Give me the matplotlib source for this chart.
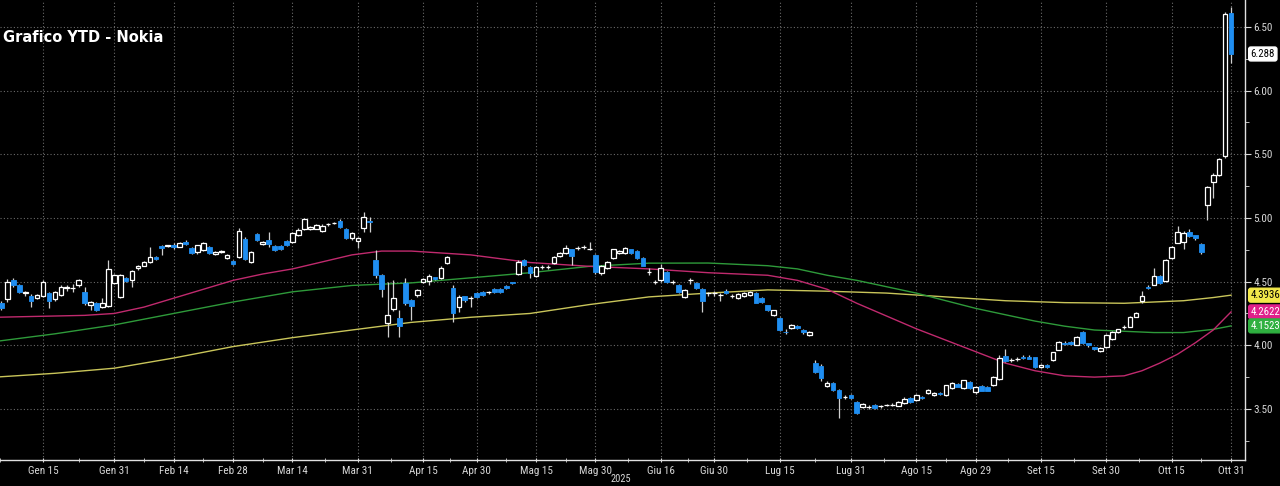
import numpy as np
import pandas as pd
import matplotlib
matplotlib.use("Agg")
import matplotlib.pyplot as plt
import matplotlib.transforms as mtransforms
from matplotlib import font_manager

_names = {f.name for f in font_manager.fontManager.ttflist}
NARROW = next((f for f in ['Liberation Sans Narrow', 'Roboto Condensed', 'Liberation Sans']
               if f in _names), 'DejaVu Sans')
plt.rcParams['font.family'] = [NARROW, 'DejaVu Sans']

# trading days (Helsinki), Jan 2 - Oct 29 2025
holidays = ['2025-01-06', '2025-04-18', '2025-04-21', '2025-05-01', '2025-05-29', '2025-06-20']

opens = [4.30, 4.33, 4.36, 4.51, 4.47, 4.41, 4.39, 4.37, 4.39, 4.41,
         4.36, 4.395, 4.45, 4.448, 4.47, 4.42, 4.315, 4.33, 4.30, 4.31,
         4.49, 4.38, 4.53, 4.51, 4.605, 4.62, 4.655, 4.69, 4.78, 4.78,
         4.79, 4.77, 4.81, 4.765, 4.73, 4.75, 4.77, 4.715, 4.733, 4.686,
         4.66, 4.69, 4.835, 4.655, 4.875, 4.795, 4.83, 4.78, 4.78, 4.82,
         4.81, 4.866, 4.913, 4.913, 4.913, 4.897, 4.952, 4.958, 4.976, 4.913,
         4.842, 4.82, 4.92, 4.976, 4.67, 4.552, 4.175, 4.285, 4.214, 4.489,
         4.356, 4.395, 4.497, 4.505, 4.536, 4.529, 4.646, 4.45, 4.30, 4.387,
         4.37, 4.411, 4.418, 4.417, 4.442, 4.442, 4.466, 4.497, 4.56, 4.67,
         4.615, 4.544, 4.613, 4.614, 4.646, 4.70, 4.725, 4.756, 4.763, 4.771,
         4.756, 4.709, 4.568, 4.607, 4.686, 4.725, 4.725, 4.756, 4.74, 4.686,
         4.575, 4.496, 4.513, 4.576, 4.496, 4.473, 4.379, 4.512, 4.489, 4.442,
         4.409, 4.409, 4.394, 4.426, 4.386, 4.371, 4.387, 4.395, 4.41, 4.371,
         4.316, 4.238, 4.214, 4.105, 4.136, 4.151, 4.12, 4.081, 3.861, 3.837,
         3.68, 3.704, 3.648, 3.593, 3.609, 3.554, 3.515, 3.514, 3.531, 3.522,
         3.53, 3.53, 3.523, 3.546, 3.586, 3.57, 3.594, 3.625, 3.609, 3.625,
         3.609, 3.664, 3.696, 3.664, 3.712, 3.633, 3.68, 3.672, 3.688, 3.735,
         3.916, 3.883, 3.891, 3.908, 3.908, 3.908, 3.829, 3.845, 3.884, 3.963,
         4.018, 4.026, 4.002, 4.104, 4.018, 3.986, 3.955, 3.986, 4.049, 4.104,
         4.143, 4.144, 4.222, 4.348, 4.458, 4.473, 4.544, 4.505, 4.685, 4.803,
         4.811, 4.889, 4.866, 4.795, 5.102, 5.282, 5.337, 5.487, 6.61]
highs = [4.35, 4.35, 4.52, 4.53, 4.48, 4.43, 4.40, 4.40, 4.51, 4.42,
         4.43, 4.47, 4.47, 4.48, 4.52, 4.46, 4.35, 4.34, 4.37, 4.67,
         4.56, 4.56, 4.54, 4.59, 4.63, 4.66, 4.77, 4.70, 4.785, 4.79,
         4.80, 4.81, 4.83, 4.77, 4.79, 4.81, 4.78, 4.74, 4.745, 4.72,
         4.67, 4.92, 4.85, 4.74, 4.88, 4.82, 4.89, 4.79, 4.79, 4.83,
         4.89, 4.92, 5.00, 4.94, 4.95, 4.95, 4.96, 4.97, 4.99, 4.92,
         4.89, 4.85, 5.05, 5.01, 4.75, 4.56, 4.50, 4.51, 4.277, 4.53,
         4.36, 4.44, 4.53, 4.56, 4.54, 4.62, 4.70, 4.47, 4.395, 4.39,
         4.39, 4.42, 4.43, 4.43, 4.45, 4.45, 4.47, 4.50, 4.67, 4.68,
         4.62, 4.62, 4.63, 4.63, 4.70, 4.73, 4.79, 4.76, 4.78, 4.79,
         4.81, 4.72, 4.63, 4.66, 4.76, 4.75, 4.77, 4.76, 4.745, 4.69,
         4.61, 4.51, 4.64, 4.58, 4.51, 4.48, 4.44, 4.53, 4.50, 4.45,
         4.42, 4.43, 4.41, 4.44, 4.40, 4.41, 4.42, 4.43, 4.42, 4.38,
         4.32, 4.28, 4.22, 4.13, 4.17, 4.16, 4.13, 4.11, 3.884, 3.85,
         3.72, 3.71, 3.66, 3.61, 3.62, 3.56, 3.55, 3.53, 3.54, 3.53,
         3.54, 3.55, 3.56, 3.59, 3.59, 3.62, 3.60, 3.66, 3.63, 3.63,
         3.69, 3.71, 3.70, 3.73, 3.72, 3.68, 3.69, 3.68, 3.76, 3.92,
         3.97, 3.90, 3.91, 3.92, 3.92, 3.91, 3.85, 3.85, 3.95, 4.03,
         4.03, 4.03, 4.07, 4.11, 4.02, 3.99, 3.99, 4.09, 4.11, 4.13,
         4.16, 4.23, 4.26, 4.43, 4.47, 4.61, 4.55, 4.68, 4.78, 4.937,
         4.90, 4.91, 4.87, 4.80, 5.25, 5.35, 5.47, 6.62, 6.66]
lows = [4.28, 4.28, 4.34, 4.46, 4.41, 4.39, 4.30, 4.36, 4.38, 4.29,
        4.35, 4.39, 4.43, 4.42, 4.46, 4.32, 4.28, 4.27, 4.29, 4.30,
        4.48, 4.37, 4.50, 4.46, 4.59, 4.62, 4.65, 4.67, 4.71, 4.77,
        4.76, 4.77, 4.79, 4.72, 4.72, 4.74, 4.72, 4.71, 4.725, 4.68,
        4.63, 4.685, 4.67, 4.645, 4.82, 4.79, 4.77, 4.74, 4.75, 4.78,
        4.80, 4.86, 4.905, 4.905, 4.91, 4.89, 4.94, 4.95, 4.92, 4.835,
        4.83, 4.764, 4.89, 4.89, 4.53, 4.38, 4.065, 4.27, 4.065, 4.32,
        4.20, 4.38, 4.49, 4.473, 4.51, 4.52, 4.64, 4.183, 4.26, 4.34,
        4.30, 4.37, 4.39, 4.40, 4.41, 4.41, 4.44, 4.48, 4.55, 4.62,
        4.53, 4.535, 4.60, 4.60, 4.64, 4.69, 4.72, 4.63, 4.75, 4.76,
        4.75, 4.56, 4.55, 4.60, 4.68, 4.72, 4.72, 4.72, 4.68, 4.62,
        4.55, 4.48, 4.50, 4.49, 4.48, 4.41, 4.37, 4.48, 4.44, 4.26,
        4.39, 4.39, 4.35, 4.40, 4.37, 4.36, 4.38, 4.39, 4.33, 4.33,
        4.27, 4.23, 4.11, 4.09, 4.13, 4.13, 4.09, 4.07, 3.78, 3.72,
        3.67, 3.64, 3.429, 3.58, 3.58, 3.46, 3.51, 3.50, 3.50, 3.51,
        3.52, 3.52, 3.52, 3.54, 3.55, 3.565, 3.58, 3.62, 3.60, 3.61,
        3.60, 3.66, 3.67, 3.66, 3.66, 3.62, 3.64, 3.64, 3.68, 3.73,
        3.87, 3.87, 3.88, 3.89, 3.89, 3.82, 3.82, 3.82, 3.88, 3.96,
        4.00, 4.00, 4.00, 4.01, 3.99, 3.96, 3.95, 3.98, 4.04, 4.10,
        4.13, 4.14, 4.22, 4.33, 4.44, 4.47, 4.48, 4.50, 4.68, 4.80,
        4.756, 4.85, 4.83, 4.72, 4.984, 5.157, 5.33, 5.47, 6.22]
closes = [4.33, 4.29, 4.50, 4.47, 4.42, 4.415, 4.35, 4.395, 4.50, 4.35,
          4.42, 4.46, 4.452, 4.45, 4.51, 4.33, 4.34, 4.28, 4.33, 4.60,
          4.55, 4.55, 4.505, 4.58, 4.62, 4.655, 4.69, 4.68, 4.765, 4.782,
          4.77, 4.80, 4.795, 4.725, 4.79, 4.80, 4.725, 4.733, 4.735, 4.709,
          4.64, 4.90, 4.68, 4.73, 4.83, 4.81, 4.795, 4.75, 4.756, 4.79,
          4.88, 4.905, 4.99, 4.93, 4.945, 4.937, 4.955, 4.96, 4.93, 4.842,
          4.882, 4.842, 5.007, 4.968, 4.552, 4.442, 4.238, 4.371, 4.151, 4.332,
          4.308, 4.434, 4.521, 4.544, 4.521, 4.607, 4.693, 4.254, 4.379, 4.356,
          4.372, 4.379, 4.395, 4.419, 4.418, 4.418, 4.45, 4.489, 4.654, 4.63,
          4.568, 4.615, 4.615, 4.616, 4.693, 4.725, 4.764, 4.70, 4.765, 4.773,
          4.76, 4.575, 4.623, 4.654, 4.756, 4.74, 4.764, 4.725, 4.686, 4.623,
          4.577, 4.498, 4.607, 4.497, 4.498, 4.418, 4.434, 4.514, 4.45, 4.348,
          4.411, 4.411, 4.396, 4.41, 4.388, 4.403, 4.41, 4.418, 4.332, 4.34,
          4.277, 4.277, 4.12, 4.103, 4.159, 4.136, 4.104, 4.104, 3.79, 3.743,
          3.704, 3.648, 3.586, 3.595, 3.586, 3.468, 3.539, 3.516, 3.507, 3.524,
          3.532, 3.532, 3.554, 3.578, 3.554, 3.609, 3.586, 3.648, 3.625, 3.617,
          3.688, 3.704, 3.672, 3.727, 3.664, 3.672, 3.641, 3.641, 3.751, 3.90,
          3.876, 3.885, 3.893, 3.90, 3.892, 3.829, 3.845, 3.829, 3.947, 4.026,
          4.01, 4.01, 4.065, 4.018, 4.002, 3.971, 3.979, 4.081, 4.104, 4.128,
          4.145, 4.222, 4.254, 4.387, 4.45, 4.544, 4.489, 4.67, 4.772, 4.889,
          4.882, 4.858, 4.842, 4.733, 5.243, 5.337, 5.463, 6.60, 6.288]

ma50_pos = [0, 10, 15, 20, 25, 30, 35, 40, 45, 50, 55, 60, 65, 70, 80, 90, 100, 110,
            120, 130, 135, 140, 145, 150, 155, 160, 165, 170, 175, 180, 185, 190,
            193, 196, 199, 202, 205, 208]
ma_50 = [4.22, 4.23, 4.235, 4.25, 4.30, 4.37, 4.44, 4.51, 4.56, 4.60, 4.655, 4.71,
         4.74, 4.74, 4.71, 4.65, 4.62, 4.60, 4.57, 4.55, 4.51, 4.44, 4.33, 4.23,
         4.13, 4.04, 3.95, 3.86, 3.80, 3.76, 3.75, 3.76, 3.80, 3.86, 3.93, 4.02,
         4.12, 4.2622]
ma100_pos = [0, 10, 20, 30, 40, 50, 60, 70, 80, 90, 100, 110, 120, 130, 135, 140,
             145, 150, 155, 160, 165, 170, 175, 180, 185, 190, 195, 200, 205, 208]
ma_100 = [4.03, 4.09, 4.16, 4.25, 4.34, 4.42, 4.47, 4.49, 4.53, 4.57, 4.62, 4.645,
          4.646, 4.625, 4.60, 4.55, 4.51, 4.46, 4.41, 4.35, 4.29, 4.24, 4.19, 4.15,
          4.12, 4.11, 4.10, 4.10, 4.125, 4.1523]
ma200_pos = [0, 10, 20, 30, 40, 50, 60, 70, 80, 90, 100, 110, 120, 130, 140, 150,
             160, 170, 180, 190, 195, 200, 205, 208]
ma_200 = [3.75, 3.78, 3.82, 3.90, 3.99, 4.06, 4.12, 4.18, 4.22, 4.25, 4.32, 4.38,
          4.41, 4.435, 4.425, 4.41, 4.38, 4.35, 4.335, 4.33, 4.34, 4.35, 4.375, 4.3936]

tick_dates = ['2025-01-15', '2025-01-31', '2025-02-14', '2025-02-28', '2025-03-14',
              '2025-03-31', '2025-04-15', '2025-04-30', '2025-05-15', '2025-05-30',
              '2025-06-16', '2025-06-30', '2025-07-15', '2025-07-31', '2025-08-15',
              '2025-08-29', '2025-09-15', '2025-09-30', '2025-10-15', '2025-10-31']
tick_labels = ['Gen 15', 'Gen 31', 'Feb 14', 'Feb 28', 'Mar 14', 'Mar 31', 'Apr 15',
               'Apr 30', 'Mag 15', 'Mag 30', 'Giu 16', 'Giu 30', 'Lug 15', 'Lug 31',
               'Ago 15', 'Ago 29', 'Set 15', 'Set 30', 'Ott 15', 'Ott 31']

last_price = 6.288

BLUE = '#1f8ef1'
FG = '#d8d8d8'


def main():
    days = pd.bdate_range('2025-01-02', '2025-10-29')
    days = days[~days.isin(pd.to_datetime(holidays))]
    n = len(opens)
    x = np.arange(n)
    o, h, l, c = map(np.array, (opens, highs, lows, closes))
    up = c >= o

    fig = plt.figure(figsize=(12.8, 4.86), dpi=100, facecolor='black')
    ax = fig.add_axes([0, 26 / 486, 1245 / 1280, 460 / 486], facecolor='black')

    # grid
    ax.set_ylim(3.099, 6.712)
    ax.set_xlim(0.76, 210.35)
    ax.set_yticks([3.5, 4.0, 4.5, 5.0, 5.5, 6.0, 6.5])
    ax.set_yticks(np.arange(3.25, 6.75, 0.5), minor=True)
    pos = np.clip(days.searchsorted(pd.to_datetime(tick_dates)), 0, n - 1)
    ax.set_xticks(pos)
    ax.set_xticklabels(tick_labels)
    mids = (pos[:-1] + pos[1:]) / 2
    ax.set_xticks(np.concatenate([[pos[0] - (pos[1] - pos[0]) / 2 * 1.2], mids]), minor=True)
    ax.grid(True, which='major', color='#6a6a6a', linestyle=(0, (1, 2)), linewidth=0.8)

    # moving averages
    ax.plot(ma200_pos, ma_200, color='#c9c55a', lw=1.0, zorder=2)
    ax.plot(ma100_pos, ma_100, color='#2e9a3a', lw=1.0, zorder=2)
    ax.plot(ma50_pos, ma_50, color='#c02a6e', lw=1.0, zorder=2)

    # candles
    top = np.maximum(o, c)
    bot = np.minimum(o, c)
    ax.vlines(x, top, h, color='#d0d0d0', lw=0.9, zorder=3)
    ax.vlines(x, l, bot, color='#d0d0d0', lw=0.9, zorder=3)
    height = np.maximum(top - bot, 0.004)
    ax.bar(x[up], height[up], bottom=bot[up], width=0.78, facecolor='black',
           edgecolor='white', linewidth=0.9, zorder=4)
    ax.bar(x[~up], height[~up], bottom=bot[~up], width=0.78, facecolor=BLUE,
           edgecolor=BLUE, linewidth=0.6, zorder=4)

    # axes styling
    for s in ('top', 'left'):
        ax.spines[s].set_visible(False)
    for s in ('right', 'bottom'):
        ax.spines[s].set_color('#e0e0e0')
        ax.spines[s].set_linewidth(1.0)
    ax.yaxis.tick_right()
    ax.tick_params(axis='y', which='major', colors=FG, labelsize=8, length=4, pad=2,
                   direction='out')
    ax.tick_params(axis='y', which='minor', colors=FG, length=3, direction='out')
    ax.tick_params(axis='x', which='major', colors=FG, labelsize=8, length=3, pad=3,
                   direction='inout')
    ax.tick_params(axis='x', which='minor', colors=FG, length=3, direction='inout')
    ax.yaxis.set_major_formatter(plt.FuncFormatter(lambda v, p: f'{v:.2f}'))

    # value tags on the right
    trans = mtransforms.blended_transform_factory(ax.transAxes, ax.transData)
    tags = [(last_price, f'{last_price:.3f}', 'white', 'black'),
            (ma_200[-1], f'{ma_200[-1]:.4f}', '#f2e84a', 'black'),
            (ma_50[-1], f'{ma_50[-1]:.4f}', '#e0208a', 'white'),
            (ma_100[-1], f'{ma_100[-1]:.4f}', '#2fb040', 'white')]
    for val, txt, bg, fg in tags:
        ax.text(1.0045, val, txt, transform=trans, ha='left', va='center', fontsize=7.8,
                color=fg, clip_on=False,
                bbox=dict(boxstyle='round,pad=0.18,rounding_size=0.2', facecolor=bg,
                          edgecolor=bg))

    fig.text(3 / 1280, 1 - 38 / 486, 'Grafico YTD - Nokia', color='white',
             fontsize=10.5, fontweight='bold', family='DejaVu Sans', va='center', ha='left')
    fig.text(621 / 1280, 1 - 479 / 486, '2025', color=FG, fontsize=7.5, ha='center',
             va='center')

    fig.savefig('out.png', dpi=100, facecolor='black')


if __name__ == '__main__':
    main()
